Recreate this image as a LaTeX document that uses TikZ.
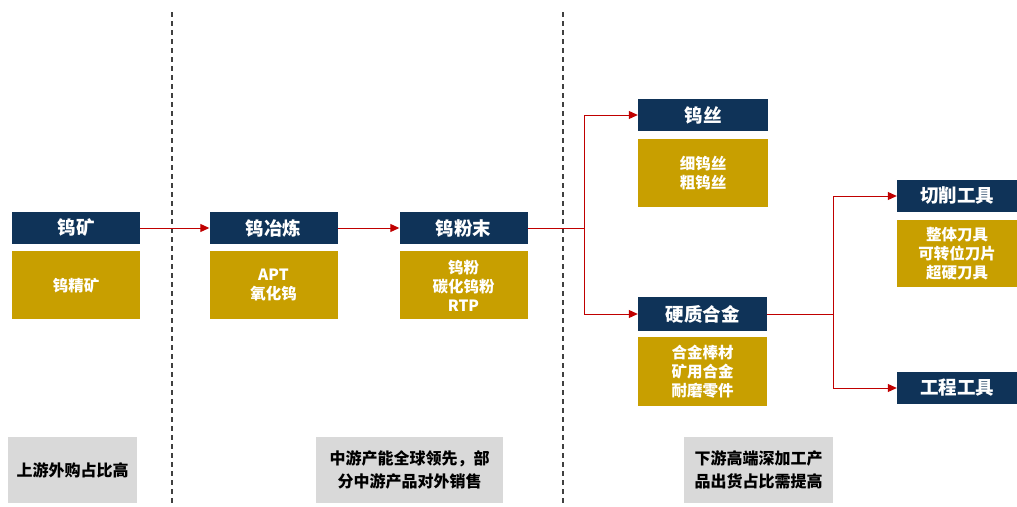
\documentclass[tikz,border=0pt]{standalone}
\usepackage{fontspec}
\setmainfont{Noto Sans CJK SC}
\usepackage{tikz}
\usetikzlibrary{positioning, arrows.meta}

\definecolor{navy}{HTML}{0F3358}
\definecolor{gold}{HTML}{C89F00}
\definecolor{lightgray}{HTML}{D9D9D9}
\definecolor{arrowred}{HTML}{C00000}
\definecolor{divider}{HTML}{404040}

\tikzset{
  headbox/.style={rectangle, fill=navy, text=white, font=\fontsize{18.5}{20}\selectfont\bfseries,
    minimum width=128pt, minimum height=32pt, inner sep=0pt},
  itembox/.style={rectangle, fill=gold, text=white, font=\fontsize{15.5}{19}\selectfont\bfseries,
    minimum width=128pt, minimum height=68pt, inner sep=0pt, align=center},
  notebox/.style={rectangle, fill=lightgray, text=black, font=\fontsize{16}{23}\selectfont\bfseries,
    minimum height=66pt, inner sep=0pt, align=center},
  link/.style={draw=arrowred, line width=1pt},
  arrow/.style={link, -{Triangle[length=9pt,width=8pt]}},
}

\begin{document}
\begin{tikzpicture}[x=1pt, y=-1pt]
            \useasboundingbox (0,0) rectangle (1017,506);
            % dividers
            \draw[divider, line width=1.2pt, dash pattern=on 5pt off 4pt] (172,12) -- (172,506);
            \draw[divider, line width=1.2pt, dash pattern=on 5pt off 4pt] (563,12) -- (563,506);

            % upstream
            \node[headbox] (kuang) at (76,228) {钨矿};
            \node[itembox, below=7pt of kuang] (kuangitem) {钨精矿};
            % midstream
            \node[headbox] (yelian) at (273.5,228) {钨冶炼};
            \node[itembox, below=7pt of yelian] (yelianitem) {APT\\氧化钨};
            \node[headbox] (fenmo) at (463.5,228) {钨粉末};
            \node[itembox, below=7pt of fenmo] (fenmoitem) {钨粉\\碳化钨粉\\RTP};
            % downstream
            \node[headbox, minimum width=130pt] (wusi) at (703,115) {钨丝};
            \node[itembox, minimum width=130pt, below=8pt of wusi] (wusiitem) {细钨丝\\粗钨丝};
            \node[headbox, minimum width=129pt, minimum height=34pt] (hejin) at (702.5,314) {硬质合金};
            \node[itembox, minimum width=129pt, minimum height=69pt, below=6pt of hejin] (hejinitem) {合金棒材\\矿用合金\\耐磨零件};
            \node[headbox, minimum width=120pt] (qiexiao) at (957,196) {切削工具};
            \node[itembox, minimum width=120pt, minimum height=67pt, below=8pt of qiexiao] (qiexiaoitem) {整体刀具\\可转位刀片\\超硬刀具};
            \node[headbox, minimum width=120pt] (gongcheng) at (957,388) {工程工具};

            % notes
            \node[notebox, minimum width=129pt] (upnote) at (72.5,470) {上游外购占比高};
            \node[notebox, minimum width=187pt] (midnote) at (409.5,470) {中游产能全球领先，部\\分中游产品对外销售};
            \node[notebox, minimum width=149pt] (downnote) at (758.5,470) {下游高端深加工产\\品出货占比需提高};

            % connectors
            \coordinate (split1) at (584,228);
            \coordinate (split2) at (833,314);
            \draw[arrow] (kuang) -- (yelian);
            \draw[arrow] (yelian) -- (fenmo);
            \draw[link] (fenmo) -- (split1);
            \draw[arrow] (split1) |- (wusi);
            \draw[arrow] (split1) |- (hejin);
            \draw[link] (hejin) -- (split2);
            \draw[arrow] (split2) |- (qiexiao);
            \draw[arrow] (split2) |- (gongcheng);
        \end{tikzpicture}
\end{document}
